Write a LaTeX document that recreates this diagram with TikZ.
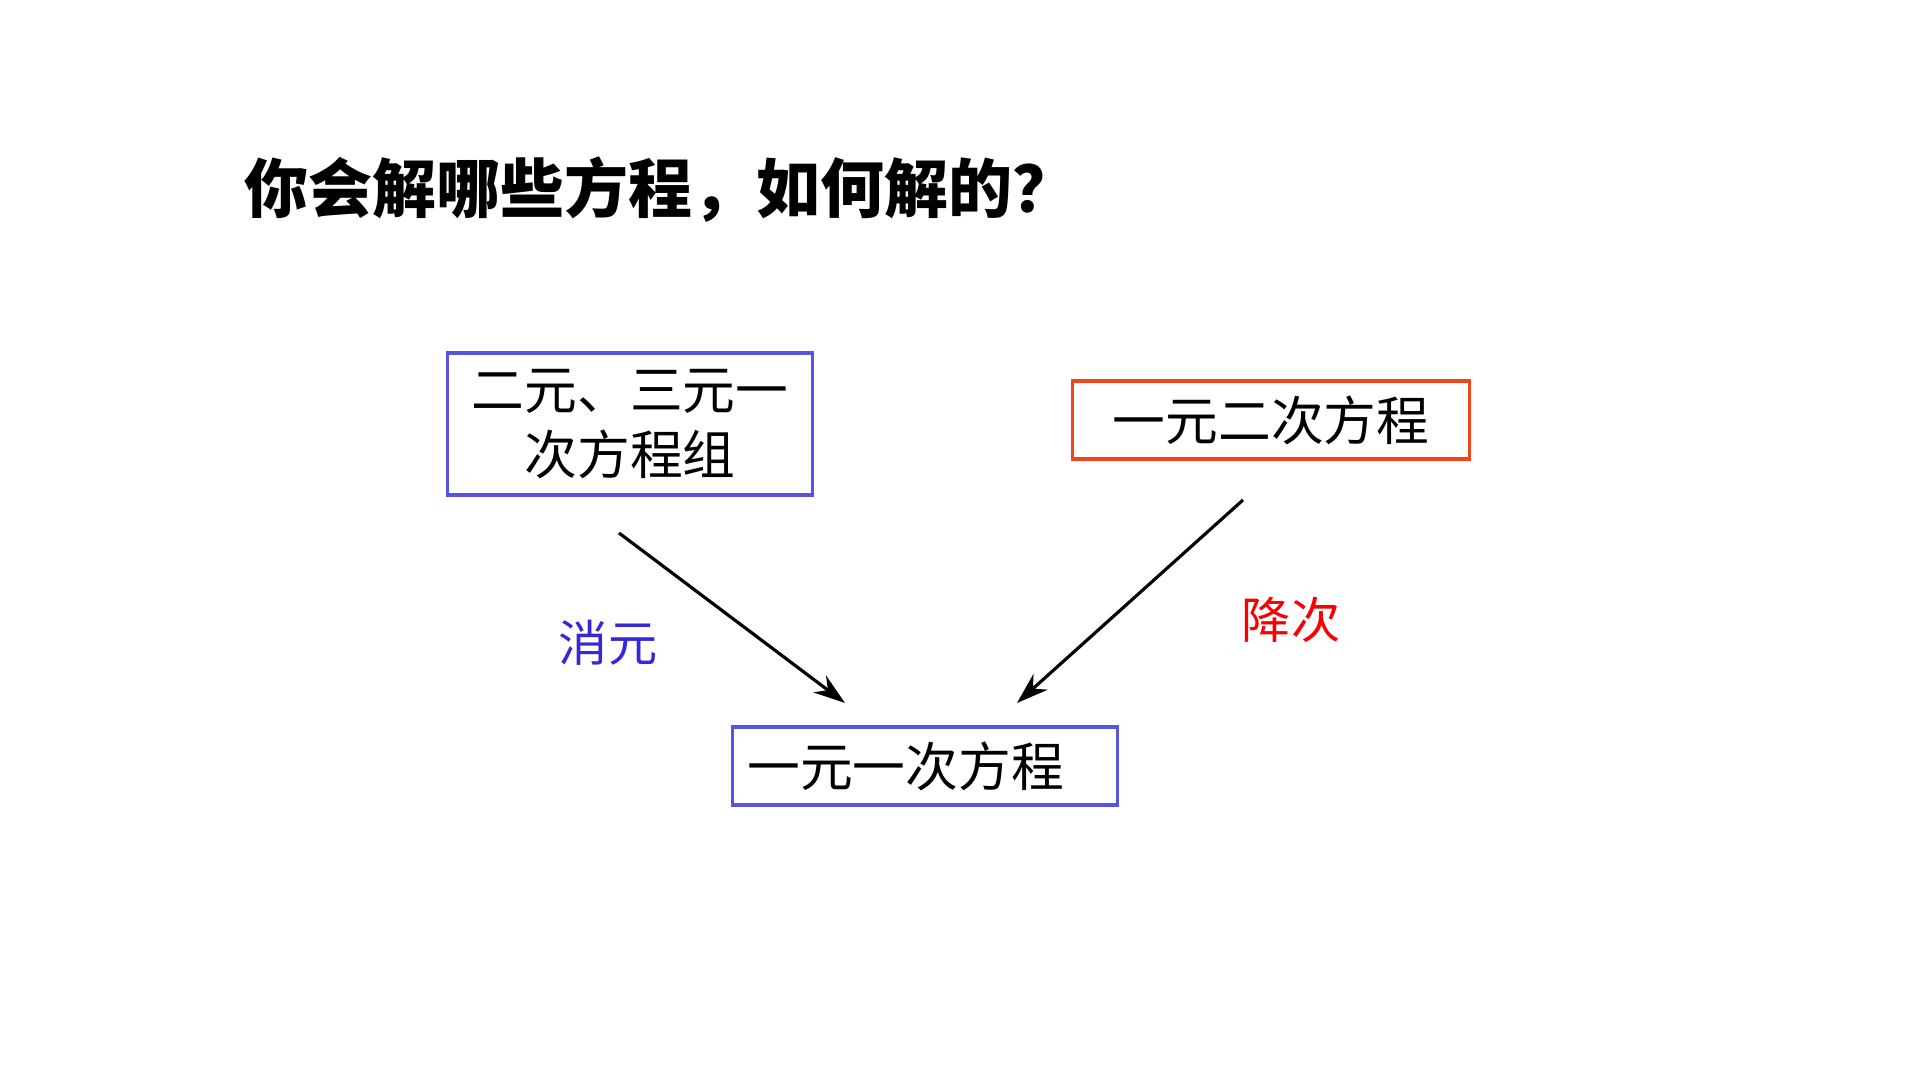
\documentclass[tikz,border=0pt]{standalone}
\usepackage{fontspec}
\newfontfamily\cjk{Noto Sans CJK SC}
\usetikzlibrary{arrows.meta}
\definecolor{boxblue}{RGB}{85,85,225}
\definecolor{boxred}{RGB}{240,70,25}
\definecolor{txtblue}{RGB}{55,40,215}
\definecolor{txtred}{RGB}{250,0,0}

\begin{document}
\begin{tikzpicture}[x=0.01cm,y=-0.01cm,
  eqbox/.style={draw,line width=0.9pt,inner sep=0pt,align=center,
    font=\cjk\fontsize{15}{18.3}\selectfont},
  reduce/.style={line width=0.9pt,-{Stealth[length=9pt,width=6pt]}},
  method/.style={font=\cjk\fontsize{14}{16}\selectfont}]
  \useasboundingbox (0,0) rectangle (1920,1080);

  \node[anchor=west,font=\cjk\bfseries\fontsize{18.2}{21}\selectfont] (title) at (232,190) {你会解哪些方程，如何解的？};

  \node[eqbox,draw=boxblue,minimum width=3.64cm,minimum height=1.42cm] (sys) at (630,424) {二元、三元一\\次方程组};
  \node[eqbox,draw=boxred,minimum width=3.96cm,minimum height=0.78cm] (quad) at (1271,420) {一元二次方程};
  \node[eqbox,draw=boxblue,minimum height=0.78cm,text width=3.55cm,
    inner xsep=0.15cm,align=left] (lin) at (925,766) {一元一次方程};

  \coordinate (A) at (619,533);
  \coordinate (B) at (845,703);
  \coordinate (C) at (1243,500);
  \coordinate (D) at (1017,703);

  \draw[reduce] (A) -- (B);
  \draw[reduce] (C) -- (D);

  \node[method,text=txtblue] (elim) at (608,643) {消元};
  \node[method,text=txtred] (deg) at (1291,620) {降次};
\end{tikzpicture}
\end{document}
